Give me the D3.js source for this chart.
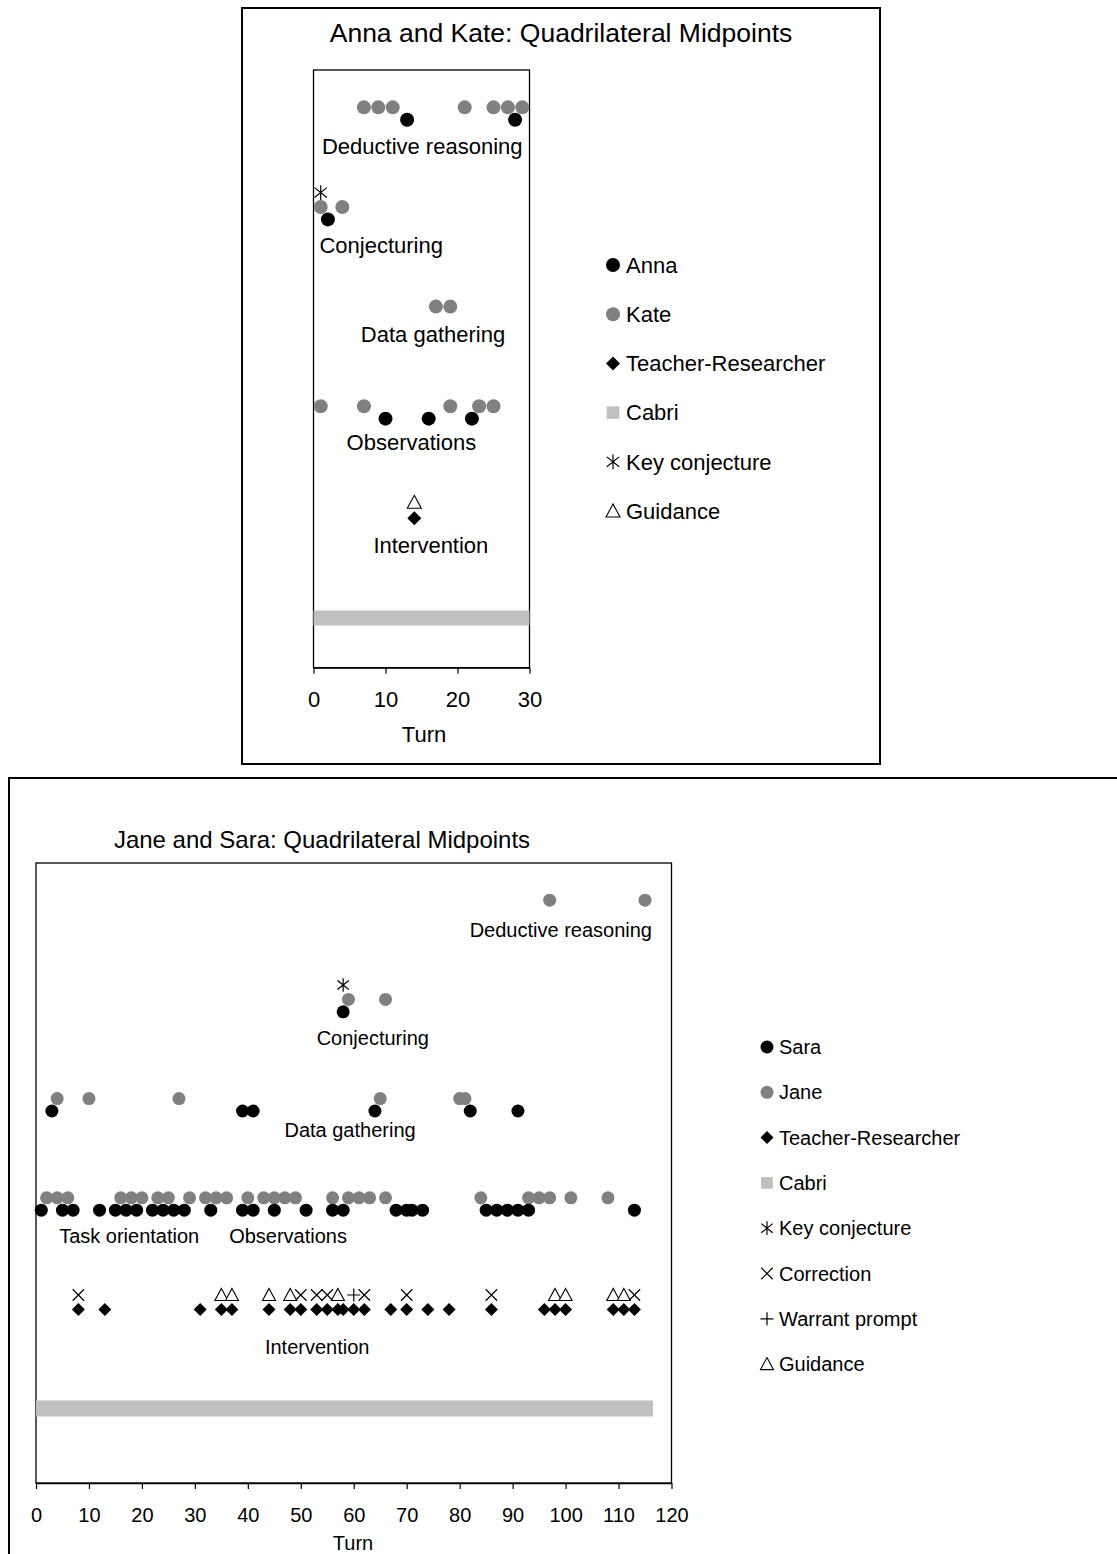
<!DOCTYPE html>
<html>
<head>
<meta charset="utf-8">
<script src="https://cdn.jsdelivr.net/npm/d3@7"></script>
<style>
  body { margin: 0; background: #fff; }
  svg { display: block; }
  text { font-family: "Liberation Sans", Arial, sans-serif; fill: #000; }
</style>
</head>
<body>
<svg id="chart"></svg>
<script>
// activity levels, bottom to top (Cabri is the strip along the bottom)
const levels = ["Cabri", "Intervention", "Observations", "Data gathering", "Conjecturing", "Deductive reasoning"];

// ---- Anna and Kate ----
const akTitle = "Anna and Kate: Quadrilateral Midpoints";
const akTicks = [0, 10, 20, 30];
const annaPts = [["Deductive reasoning", 13], ["Deductive reasoning", 28], ["Conjecturing", 2],
  ["Observations", 10], ["Observations", 16], ["Observations", 22]];
const katePts = [["Deductive reasoning", 7], ["Deductive reasoning", 9], ["Deductive reasoning", 11],
  ["Deductive reasoning", 21], ["Deductive reasoning", 25], ["Deductive reasoning", 27], ["Deductive reasoning", 29],
  ["Conjecturing", 1], ["Conjecturing", 4], ["Data gathering", 17], ["Data gathering", 19],
  ["Observations", 1], ["Observations", 7], ["Observations", 19], ["Observations", 23], ["Observations", 25]];
const akTeacher = [14];
const akKeyConj = [1];
const akGuidance = [14];
const akCabri = [0, 30];
// label text, turn, level value
const akLabels = [["Deductive reasoning", 15.1, 5.23], ["Conjecturing", 9.4, 4.24], ["Data gathering", 16.6, 3.35],
  ["Observations", 13.6, 2.265], ["Intervention", 16.3, 1.23]];
const akLegend = ["Anna", "Kate", "Teacher-Researcher", "Cabri", "Key conjecture", "Guidance"];

// ---- Jane and Sara ----
const jsTitle = "Jane and Sara: Quadrilateral Midpoints";
const jsTicks = [0, 10, 20, 30, 40, 50, 60, 70, 80, 90, 100, 110, 120];
const saraConj = [58];
const saraData = [3, 39, 41, 64, 82, 91];
const saraObs = [1, 5, 7, 12, 15, 17, 19, 22, 24, 26, 28, 33, 39, 41, 45, 51, 56, 58, 68, 70, 71, 73, 85, 87, 89, 91, 93, 113];
const janeDeductive = [97, 115];
const janeConj = [59, 66];
const janeData = [4, 10, 27, 65, 80, 81];
const janeObs = [2, 4, 6, 16, 18, 20, 23, 25, 29, 32, 34, 36, 40, 43, 45, 47, 49, 56, 59, 61, 63, 66, 84, 93, 95, 97, 101, 108];
const jsTeacher = [8, 13, 31, 35, 37, 44, 48, 50, 53, 55, 57, 58, 60, 62, 67, 70, 74, 78, 86, 96, 98, 100, 109, 111, 113];
const jsKeyConj = [58];
const jsCorrection = [8, 50, 53, 55, 62, 70, 86, 113];
const jsWarrant = [60];
const jsGuidance = [35, 37, 44, 48, 57, 98, 100, 109, 111];
const jsCabri = [0, 116.5];
const jsLabels = [["Deductive reasoning", 99.1, 5.32], ["Conjecturing", 63.6, 4.24], ["Data gathering", 59.3, 3.31],
  ["Task orientation", 17.6, 2.24], ["Observations", 47.6, 2.24], ["Intervention", 53.1, 1.12]];
const jsLegend = ["Sara", "Jane", "Teacher-Researcher", "Cabri", "Key conjecture", "Correction", "Warrant prompt", "Guidance"];

const svg = d3.select("#chart").attr("width", 1117).attr("height", 1554);

const levelValue = name => levels.indexOf(name) + 0.5;

function markerPath(type, s) {
  const d = s * 0.88;
  switch (type) {
    case "diamond": return `M0,${-s}L${s},0L0,${s}L${-s},0Z`;
    case "triangle": return `M0,${-s}L${s},${s * 0.85}L${-s},${s * 0.85}Z`;
    case "cross": return `M${-d},${-d}L${d},${d}M${-d},${d}L${d},${-d}`;
    case "plus": return `M${-s},0L${s},0M0,${-s}L0,${s}`;
    case "star": return `M0,${-s * 1.05}L0,${s * 1.05}M${-d},${-d * 0.8}L${d},${d * 0.8}M${-d},${d * 0.8}L${d},${-d * 0.8}`;
    case "square": return `M${-s * 0.9},${-s * 0.9}h${s * 1.8}v${s * 1.8}h${-s * 1.8}Z`;
  }
}

function drawMarker(g, type, x, y, s) {
  if (type === "dotBlack" || type === "dotGray") {
    g.append("circle").attr("cx", x).attr("cy", y).attr("r", s)
      .attr("fill", type === "dotBlack" ? "#000" : "#808080");
    return;
  }
  const p = g.append("path").attr("transform", `translate(${x},${y})`).attr("d", markerPath(type, s));
  if (type === "diamond") p.attr("fill", "#000");
  else if (type === "square") p.attr("fill", "#c0c0c0");
  else if (type === "triangle") p.attr("fill", "#fff").attr("stroke", "#000").attr("stroke-width", 1.1);
  else p.attr("fill", "none").attr("stroke", "#000").attr("stroke-width", 1.2);
}

function drawChart(c) {
  const g = svg.append("g");
  g.append("rect").attr("x", c.frame[0]).attr("y", c.frame[1]).attr("width", c.frame[2]).attr("height", c.frame[3])
    .attr("fill", "none").attr("stroke", "#000").attr("stroke-width", 2);

  const x = d3.scaleLinear().domain([0, c.xMax]).range([c.left, c.right]);
  const y = d3.scaleLinear().domain([c.yMin, 6]).range([c.bottom, c.top]);

  g.append("rect").attr("x", c.left).attr("y", c.top).attr("width", c.right - c.left).attr("height", c.bottom - c.top)
    .attr("fill", "none").attr("stroke", "#000").attr("stroke-width", 1.3);

  // Cabri strip
  g.append("line").attr("x1", x(c.cabri[0])).attr("x2", x(c.cabri[1]))
    .attr("y1", y(levelValue("Cabri"))).attr("y2", y(levelValue("Cabri")))
    .attr("stroke", "#c0c0c0").attr("stroke-width", c.cabriWidth);

  c.series.forEach(s => {
    s.pts.forEach(([lvl, t]) => drawMarker(g, s.type, x(t), y(levelValue(lvl) + s.offset), c.mark));
  });

  c.labels.forEach(([txt, t, v]) => {
    g.append("text").attr("x", x(t)).attr("y", y(v)).attr("dy", "0.35em").attr("text-anchor", "middle")
      .style("font-size", c.font + "px").text(txt);
  });

  const axis = g.append("g").attr("transform", `translate(0,${c.bottom})`)
    .call(d3.axisBottom(x).tickValues(c.ticks).tickSize(6).tickPadding(c.tickPad).tickSizeOuter(0));
  axis.select(".domain").attr("stroke", "#000").attr("stroke-width", 1.3);
  axis.selectAll(".tick line").attr("stroke", "#000").attr("stroke-width", 1.2);
  axis.selectAll("text").style("font-size", c.font + "px").style("font-family", "'Liberation Sans', Arial, sans-serif");

  g.append("text").attr("x", c.turnX).attr("y", c.turnY).attr("dy", "0.35em").attr("text-anchor", "middle")
    .style("font-size", c.font + "px").text("Turn");

  g.append("text").attr("x", c.titleX).attr("y", c.titleY).attr("dy", "0.35em").attr("text-anchor", "middle")
    .style("font-size", c.titleFont + "px").text(c.title);

  c.legend.forEach((name, i) => {
    const ly = c.legY + i * c.legStep;
    drawMarker(g, c.legTypes[i], c.legX, ly, c.legMark);
    g.append("text").attr("x", c.legX + c.legGap).attr("y", ly).attr("dy", "0.35em")
      .style("font-size", c.font + "px").text(name);
  });
}

const asPts = (lvl, arr) => arr.map(t => [lvl, t]);

drawChart({
  frame: [242, 8, 638, 756],
  left: 313.5, right: 529.5, top: 70, bottom: 667.7, xMax: 30, yMin: 0,
  ticks: akTicks, tickPad: 18, font: 22, titleFont: 26.5, mark: 7, cabriWidth: 15,
  cabri: akCabri, title: akTitle, titleX: 561, titleY: 33, turnX: 424, turnY: 734,
  labels: akLabels,
  series: [
    { type: "dotGray", offset: 0.125, pts: katePts },
    { type: "dotBlack", offset: 0, pts: annaPts },
    { type: "diamond", offset: 0, pts: asPts("Intervention", akTeacher) },
    { type: "triangle", offset: 0.16, pts: asPts("Intervention", akGuidance) },
    { type: "star", offset: 0.27, pts: asPts("Conjecturing", akKeyConj) }
  ],
  legend: akLegend, legTypes: ["dotBlack", "dotGray", "diamond", "square", "star", "triangle"],
  legX: 613, legY: 265, legStep: 49.2, legGap: 13, legMark: 7
});

drawChart({
  frame: [9, 778, 1300, 900],
  left: 36, right: 671.5, top: 863, bottom: 1483, xMax: 120, yMin: -0.25,
  ticks: jsTicks, tickPad: 19, font: 20, titleFont: 24, mark: 6.5, cabriWidth: 16,
  cabri: jsCabri, title: jsTitle, titleX: 322, titleY: 840, turnX: 353, turnY: 1543,
  labels: jsLabels,
  series: [
    { type: "dotGray", offset: 0.125, pts: asPts("Deductive reasoning", janeDeductive)
        .concat(asPts("Conjecturing", janeConj), asPts("Data gathering", janeData), asPts("Observations", janeObs)) },
    { type: "dotBlack", offset: 0, pts: asPts("Conjecturing", saraConj)
        .concat(asPts("Data gathering", saraData), asPts("Observations", saraObs)) },
    { type: "diamond", offset: 0, pts: asPts("Intervention", jsTeacher) },
    { type: "cross", offset: 0.145, pts: asPts("Intervention", jsCorrection) },
    { type: "plus", offset: 0.145, pts: asPts("Intervention", jsWarrant) },
    { type: "triangle", offset: 0.145, pts: asPts("Intervention", jsGuidance) },
    { type: "star", offset: 0.27, pts: asPts("Conjecturing", jsKeyConj) }
  ],
  legend: jsLegend,
  legTypes: ["dotBlack", "dotGray", "diamond", "square", "star", "cross", "plus", "triangle"],
  legX: 767, legY: 1047, legStep: 45.3, legGap: 12, legMark: 6.5
});
</script>
</body>
</html>
